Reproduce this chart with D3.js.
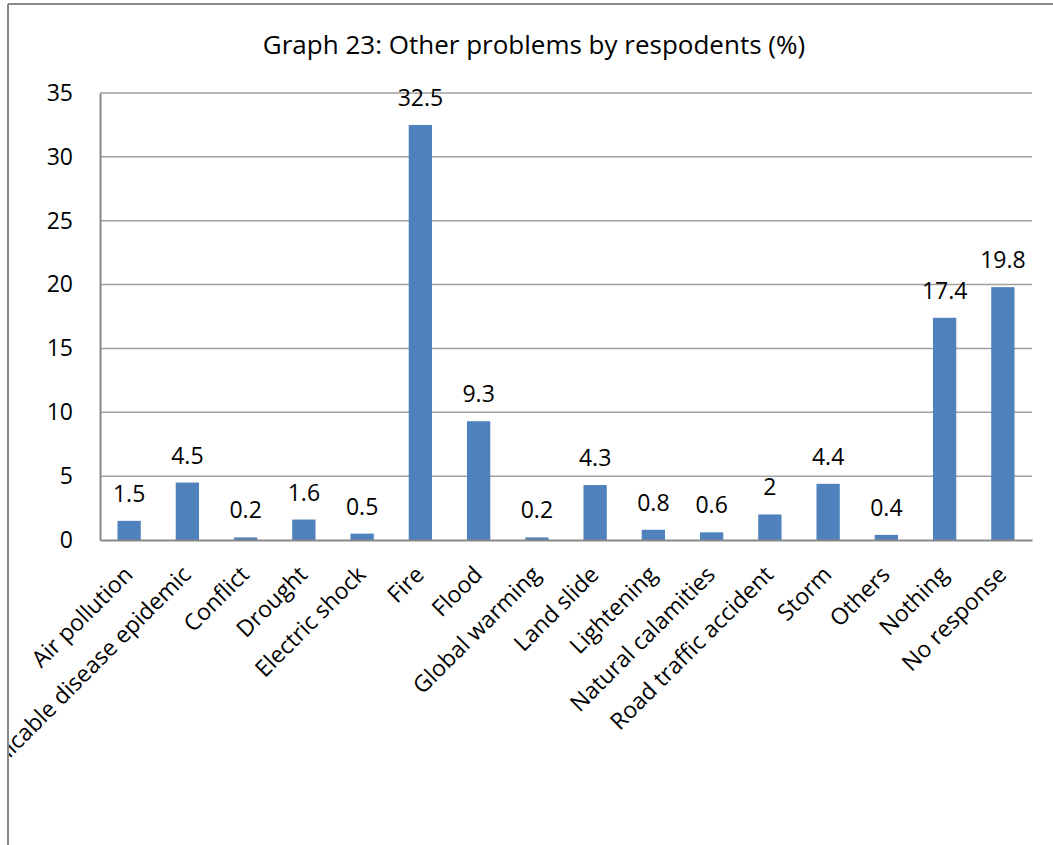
<!DOCTYPE html>
<html>
<head>
<meta charset="utf-8">
<script src="https://cdn.jsdelivr.net/npm/d3@7"></script>
<style>
  body { margin: 0; background: #fff; }
  svg text { font-family: "Open Sans", sans-serif; fill: #000; }
</style>
</head>
<body>
<svg id="chart" width="1053" height="845"></svg>
<script>
const categories = [
  'Air pollution', 'Communicable disease epidemic', 'Conflict', 'Drought', 'Electric shock', 'Fire', 'Flood',
  'Global warming', 'Land slide', 'Lightening', 'Natural calamities', 'Road traffic accident',
  'Storm', 'Others', 'Nothing', 'No response'
];
const values = [1.5, 4.5, 0.2, 1.6, 0.5, 32.5, 9.3, 0.2, 4.3, 0.8, 0.6, 2, 4.4, 0.4, 17.4, 19.8];
const yTicks = [0, 5, 10, 15, 20, 25, 30, 35];
const title = 'Graph 23: Other problems by respodents (%)';

const svg = d3.select('#chart');
const margin = { left: 100, top: 93, right: 21, bottom: 305 };
const width = 1053 - margin.left - margin.right;
const height = 845 - margin.top - margin.bottom;
const font = '"Open Sans", sans-serif';

// outer frame (only top and left edges are visible in the crop)
svg.append('line').attr('x1', 8).attr('x2', 1053).attr('y1', 4).attr('y2', 4)
  .attr('stroke', '#888').attr('stroke-width', 2);
svg.append('line').attr('x1', 8).attr('x2', 8).attr('y1', 4).attr('y2', 845)
  .attr('stroke', '#888').attr('stroke-width', 2);

svg.append('defs').append('clipPath').attr('id', 'frame-clip')
  .append('rect').attr('x', 9).attr('y', 5).attr('width', 1044).attr('height', 840);

const root = svg.append('g').attr('clip-path', 'url(#frame-clip)');

root.append('text')
  .attr('x', 534).attr('y', 54)
  .attr('text-anchor', 'middle')
  .style('font-size', '26px')
  .text(title);

const g = root.append('g').attr('transform', `translate(${margin.left},${margin.top})`);

const x = d3.scaleBand().domain(categories).range([0, width]).paddingInner(0.6).paddingOuter(0.3);
const y = d3.scaleLinear().domain([0, 35]).range([height, 0]);

// gridlines
g.append('g')
  .selectAll('line')
  .data(yTicks.filter((d) => d > 0))
  .join('line')
  .attr('x1', 0).attr('x2', width)
  .attr('y1', (d) => y(d)).attr('y2', (d) => y(d))
  .attr('stroke', '#a0a0a0').attr('stroke-width', 1.5);

// y axis
const gy = g.append('g').call(d3.axisLeft(y).tickValues(yTicks).tickSize(0).tickPadding(27));
gy.select('.domain').attr('stroke', '#888').attr('stroke-width', 2);
gy.selectAll('.tick text').style('font-size', '23px').style('font-family', font).attr('fill', '#000');

// bars
g.append('g')
  .selectAll('rect')
  .data(values)
  .join('rect')
  .attr('x', (d, i) => x(categories[i]))
  .attr('y', (d) => y(d))
  .attr('width', x.bandwidth())
  .attr('height', (d) => height - y(d))
  .attr('fill', '#4f81bd');

// value labels
g.append('g')
  .selectAll('text')
  .data(values)
  .join('text')
  .attr('x', (d, i) => x(categories[i]) + x.bandwidth() / 2)
  .attr('y', (d) => y(d) - 19)
  .attr('text-anchor', 'middle')
  .style('font-size', '23px')
  .text((d) => d);

// x axis
const gx = g.append('g').attr('transform', `translate(0,${height})`)
  .call(d3.axisBottom(x).tickSize(0).tickPadding(0));
gx.select('.domain').attr('stroke', '#888').attr('stroke-width', 2);
gx.selectAll('.tick text')
  .style('font-size', '23px')
  .style('font-family', font)
  .attr('fill', '#000')
  .attr('text-anchor', 'end')
  .attr('dy', '0')
  .attr('transform', 'translate(5,36) rotate(-45)');
</script>
</body>
</html>
